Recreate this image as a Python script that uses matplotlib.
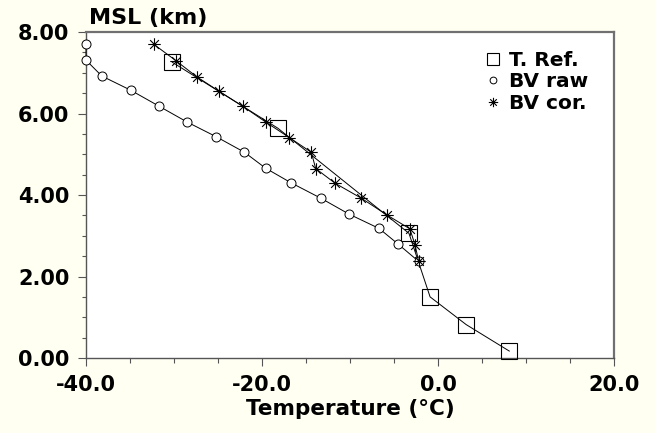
import numpy as np
import matplotlib
matplotlib.use("Agg")
import matplotlib.pyplot as plt
from matplotlib.path import Path
from matplotlib.ticker import MultipleLocator, FormatStrFormatter

# ---- data ----
tref_t = [-30.2, -18.2, -3.3, -0.9, 3.2, 8.1]
tref_z = [7.26, 5.64, 3.06, 1.50, 0.82, 0.17]

raw_t = [-40.0, -40.0, -38.2, -34.9, -31.7, -28.5, -25.2, -22.0, -19.6,
         -16.7, -13.3, -10.1, -6.7, -4.5, -2.2]
raw_z = [7.70, 7.31, 6.92, 6.57, 6.18, 5.79, 5.43, 5.05, 4.66,
         4.30, 3.92, 3.53, 3.18, 2.79, 2.37]

cor_t = [-32.3, -29.8, -27.4, -24.9, -22.2, -19.5, -16.9, -14.4, -13.9,
         -11.7, -8.7, -5.8, -3.2, -2.6, -2.2]
cor_z = [7.70, 7.30, 6.90, 6.55, 6.18, 5.78, 5.41, 5.05, 4.65,
         4.29, 3.92, 3.51, 3.17, 2.77, 2.37]

BG = "#fffff2"
INK = "#000000"
SPINE = "#555555"

plt.rcParams.update({
    "font.family": "DejaVu Sans",
    "font.weight": "bold",
    "axes.unicode_minus": False,
})

# 8-spoke asterisk marker
ast = Path([(0, -1), (0, 1), (-1, 0), (1, 0),
            (-0.7, -0.7), (0.7, 0.7), (-0.7, 0.7), (0.7, -0.7)],
           [Path.MOVETO, Path.LINETO] * 4)

fig = plt.figure(figsize=(6.56, 4.33), dpi=100)
fig.patch.set_facecolor(BG)
ax = fig.add_axes([0.1311, 0.1732, 0.936 - 0.1311, 0.926 - 0.1732])
ax.set_facecolor("white")

ax.plot(tref_t, tref_z, color=INK, lw=0.7, marker="s", ms=12,
        mfc="none", mec=INK, mew=0.8, label="T. Ref.", clip_on=False, zorder=3)
ax.plot(raw_t, raw_z, color=INK, lw=0.7, marker="o", ms=6.5,
        mfc="white", mec=INK, mew=0.7, label="BV raw", clip_on=False, zorder=4)
ax.plot(cor_t, cor_z, color=INK, lw=0.7, marker=ast, ms=9,
        mfc="none", mec=INK, mew=0.8, label="BV cor.", clip_on=False, zorder=5)

ax.set_xlim(-40, 20)
ax.set_ylim(0, 8)
ax.xaxis.set_major_locator(MultipleLocator(20))
ax.xaxis.set_minor_locator(MultipleLocator(5))
ax.yaxis.set_major_locator(MultipleLocator(2))
ax.yaxis.set_minor_locator(MultipleLocator(0.5))
ax.xaxis.set_major_formatter(FormatStrFormatter("%.1f"))
ax.yaxis.set_major_formatter(FormatStrFormatter("%.2f"))

ax.tick_params(which="major", direction="out", length=5.5, width=0.8,
               color=SPINE, labelsize=15, pad=6.5, labelcolor=INK)
ax.tick_params(which="minor", direction="out", length=3.5, width=0.8, color=SPINE)
ax.tick_params(axis="y", which="minor", length=3)

for s in ax.spines.values():
    s.set_color(SPINE)
    s.set_linewidth(1.0)
ax.spines["top"].set_color("#707070")
ax.spines["top"].set_linewidth(1.6)
ax.spines["right"].set_color("#707070")
ax.spines["right"].set_linewidth(1.6)

ax.set_xlabel("Temperature (\u00b0C)", fontsize=15.5, fontweight="bold", labelpad=3)
fig.text(89 / 656, 1 - 18 / 433, "MSL (km)", fontsize=16, fontweight="bold",
         ha="left", va="center")

leg = ax.legend(loc="upper left", bbox_to_anchor=(484 / 656, 1 - 51 / 433),
                bbox_transform=fig.transFigure, frameon=False, fontsize=14.5,
                handlelength=0.9, handletextpad=0.35, labelspacing=0.12,
                borderpad=0, borderaxespad=0, markerscale=0.75)
for h in leg.legend_handles:
    h.set_linestyle("none")

fig.savefig("out.png", dpi=100, facecolor=BG)
